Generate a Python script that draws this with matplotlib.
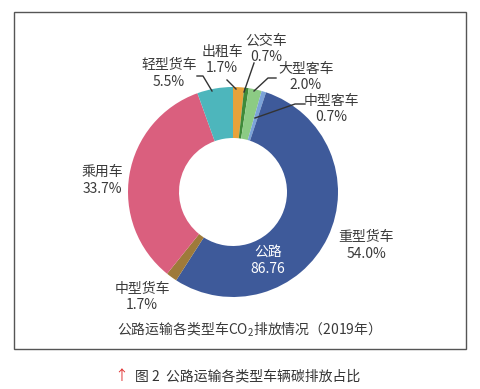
import matplotlib
matplotlib.use("Agg")
import matplotlib.pyplot as plt
from matplotlib.patches import Rectangle

plt.rcParams['font.family'] = ['Noto Sans CJK SC', 'DejaVu Sans']
plt.rcParams['mathtext.fontset'] = 'custom'
plt.rcParams['mathtext.rm'] = 'Noto Sans CJK SC'
plt.rcParams['mathtext.it'] = 'Noto Sans CJK SC'
plt.rcParams['mathtext.default'] = 'rm'

categories = ['出租车', '公交车', '大型客车', '中型客车', '重型货车', '中型货车', '乘用车', '轻型货车']
shares = [1.7, 0.7, 2.0, 0.7, 54.0, 1.7, 33.7, 5.5]
colors = ['#E8A23A', '#3F8A3A', '#8CCB84', '#7BA3D8', '#3E5A9A', '#9E7A3A', '#DA5F7E', '#4DB6BC']
center_label = '公路'
center_value = '86.76'
chart_title = '公路运输各类型车CO$_2$排放情况（2019年）'
caption = '图 2  公路运输各类型车辆碳排放占比'

W, H = 481, 389
fig = plt.figure(figsize=(W / 100, H / 100), dpi=100)
ax = fig.add_axes([0, 0, 1, 1])
ax.set_xlim(0, W)
ax.set_ylim(0, H)
ax.set_aspect('equal')
ax.axis('off')

def Y(y):
    return H - y

cx, cy, R = 233, Y(192), 105
ax.pie(shares, colors=colors, startangle=90, counterclock=False,
       center=(cx, cy), radius=R, frame=True,
       wedgeprops=dict(width=51, edgecolor='none'))
ax.set_xlim(0, W)
ax.set_ylim(0, H)
ax.axis('off')

# label positions (pixel coords: name line y, value line y)
label_pos = {
    '出租车': (222, 52, 68),
    '公交车': (266, 41, 57),
    '大型客车': (306, 69, 85),
    '中型客车': (331, 101, 117),
    '重型货车': (366, 237, 254),
    '中型货车': (142, 289, 305),
    '乘用车': (102, 172, 189),
    '轻型货车': (169, 65, 82),
}
tc = '#3a3a3a'
fs = 10
for name, val in zip(categories, shares):
    x, y1, y2 = label_pos[name]
    ax.text(x, Y(y1), name, ha='center', va='center', fontsize=fs, color=tc)
    ax.text(x, Y(y2), f'{val:.1f}%', ha='center', va='center', fontsize=fs, color=tc)

leaders = [
    [(197, 76), (203, 76), (212, 91)],
    [(227, 80), (236, 89)],
    [(254, 63), (244, 92)],
    [(276, 78), (268, 78), (254, 91)],
    [(305, 104), (295, 104), (255, 118)],
]
for pts in leaders:
    xs = [p[0] for p in pts]
    ys = [Y(p[1]) for p in pts]
    ax.plot(xs, ys, color='#333333', lw=1)

ax.text(268, Y(252), center_label, ha='center', va='center', fontsize=fs, color='white')
ax.text(268, Y(269), center_value, ha='center', va='center', fontsize=fs, color='white')

ax.text(245, Y(329), chart_title, ha='center', va='center', fontsize=fs, color=tc)

ax.add_patch(Rectangle((14, Y(349)), 452, 337, fill=False, edgecolor='#555555', lw=1))

ax.text(121, Y(376), '↑', ha='center', va='center', fontsize=fs, color='#E03030')
ax.text(248, Y(376), caption, ha='center', va='center', fontsize=fs, color='#333333')

fig.savefig('out.png', dpi=100)
